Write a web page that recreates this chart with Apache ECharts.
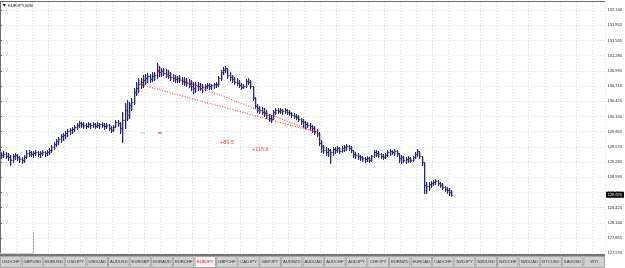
<!DOCTYPE html>
<html><head><meta charset="utf-8">
<script src="https://cdn.jsdelivr.net/npm/echarts@6/dist/echarts.min.js"></script>
<style>html,body{margin:0;padding:0;background:#fff;overflow:hidden}#c{width:625px;height:268px}</style>
</head><body><div id="c"></div>
<script>
// EURJPY M30 bars
const open = [
129.44,129.42,129.44,129.40,129.38,129.32,129.40,129.42,129.38,129.34,
129.32,129.38,129.45,129.47,129.44,129.45,129.47,129.44,129.45,129.47,
129.45,129.47,129.51,129.57,129.62,129.68,129.72,129.77,129.79,129.83,
129.87,129.89,129.91,129.94,129.98,130.02,130.00,129.98,129.96,130.00,
129.98,130.00,129.96,129.98,130.00,129.98,129.96,129.98,129.92,129.89,
129.94,130.04,130.02,129.92,130.07,130.26,130.17,130.36,130.41,130.60,
130.68,130.75,130.79,130.83,130.86,130.90,130.84,130.90,130.92,131.01,
130.98,130.99,130.96,130.94,130.92,130.88,130.86,130.84,130.86,130.83,
130.81,130.79,130.77,130.75,130.71,130.68,130.73,130.71,130.68,130.69,
130.71,130.73,130.71,130.73,130.75,130.75,130.86,130.98,131.01,131.05,
130.92,130.88,130.84,130.79,130.77,130.73,130.69,130.71,130.81,130.79,
130.71,130.49,130.34,130.30,130.26,130.22,130.21,130.17,130.11,130.09,
130.22,130.26,130.24,130.26,130.24,130.26,130.22,130.21,130.17,130.15,
130.13,130.09,130.06,130.04,130.00,129.98,129.96,129.92,129.87,129.83,
129.64,129.59,129.51,129.47,129.51,129.47,129.53,129.51,129.55,129.49,
129.55,129.57,129.59,129.55,129.51,129.44,129.42,129.40,129.38,129.36,
129.34,129.36,129.32,129.40,129.47,129.45,129.44,129.40,129.38,129.42,
129.47,129.49,129.47,129.49,129.45,129.36,129.38,129.32,129.34,129.36,
129.32,129.38,129.44,129.49,129.40,129.29,128.85,128.83,128.87,128.89,
128.91,128.93,128.89,128.85,128.82,128.78,128.76,128.72];
const high = [
129.47,129.49,129.47,129.45,129.42,129.44,129.45,129.44,129.40,129.38,
129.42,129.51,129.51,129.49,129.49,129.51,129.49,129.49,129.51,129.49,
129.51,129.55,129.60,129.66,129.72,129.76,129.81,129.83,129.87,129.91,
129.92,129.94,129.98,130.02,130.06,130.04,130.04,130.02,130.04,130.02,
130.04,130.02,130.04,130.02,130.04,130.02,130.02,130.00,129.96,129.98,
130.07,130.07,130.04,130.22,130.39,130.45,130.41,130.49,130.68,130.79,
130.86,130.86,130.92,130.94,130.96,130.94,130.98,130.98,131.14,131.09,
131.05,131.05,131.03,131.01,130.98,130.94,130.92,130.90,130.92,130.88,
130.88,130.86,130.84,130.83,130.79,130.79,130.79,130.77,130.75,130.75,
130.77,130.77,130.75,130.77,130.79,130.90,131.01,131.07,131.09,131.05,
130.98,130.92,130.88,130.86,130.83,130.77,130.75,130.84,130.86,130.83,
130.71,130.51,130.37,130.34,130.32,130.30,130.26,130.19,130.17,130.26,
130.30,130.30,130.30,130.28,130.30,130.28,130.26,130.22,130.21,130.19,
130.17,130.11,130.09,130.06,130.04,130.02,129.98,129.96,129.91,129.85,
129.70,129.60,129.57,129.55,129.53,129.57,129.57,129.59,129.57,129.59,
129.60,129.62,129.60,129.59,129.51,129.47,129.45,129.42,129.40,129.38,
129.40,129.38,129.42,129.51,129.51,129.49,129.45,129.44,129.45,129.51,
129.53,129.51,129.53,129.51,129.45,129.42,129.40,129.38,129.40,129.38,
129.40,129.47,129.53,129.49,129.40,129.29,128.91,128.91,128.93,128.95,
128.97,128.95,128.91,128.89,128.83,128.82,128.80,128.76];
const low = [
129.36,129.38,129.36,129.32,129.23,129.29,129.34,129.32,129.29,129.27,
129.29,129.36,129.40,129.40,129.38,129.42,129.40,129.38,129.42,129.40,
129.42,129.44,129.47,129.53,129.59,129.62,129.66,129.70,129.74,129.77,
129.81,129.83,129.87,129.91,129.94,129.94,129.92,129.92,129.94,129.92,
129.94,129.92,129.94,129.92,129.94,129.91,129.92,129.89,129.85,129.87,
129.94,129.96,129.83,129.66,129.92,130.07,130.11,130.26,130.37,130.54,
130.60,130.68,130.69,130.75,130.79,130.79,130.81,130.83,130.86,130.90,
130.90,130.92,130.88,130.86,130.83,130.81,130.79,130.79,130.79,130.75,
130.73,130.71,130.69,130.64,130.58,130.60,130.64,130.64,130.60,130.64,
130.68,130.66,130.66,130.68,130.69,130.71,130.83,130.94,130.98,130.86,
130.83,130.79,130.75,130.73,130.69,130.66,130.68,130.69,130.75,130.68,
130.45,130.30,130.22,130.21,130.19,130.15,130.11,130.06,130.04,130.09,
130.19,130.21,130.21,130.19,130.21,130.19,130.17,130.13,130.11,130.09,
130.06,130.00,129.94,129.92,129.94,129.91,129.85,129.81,129.77,129.60,
129.47,129.45,129.42,129.40,129.27,129.42,129.45,129.47,129.45,129.47,
129.49,129.51,129.51,129.47,129.38,129.36,129.34,129.32,129.30,129.29,
129.30,129.29,129.30,129.38,129.40,129.38,129.36,129.34,129.36,129.40,
129.42,129.44,129.42,129.40,129.29,129.27,129.29,129.27,129.29,129.29,
129.30,129.36,129.40,129.36,129.23,128.70,128.70,128.76,128.82,128.85,
128.87,128.85,128.82,128.78,128.74,128.70,128.67,128.65];
const close = [
129.42,129.44,129.40,129.38,129.32,129.40,129.42,129.38,129.34,129.32,
129.38,129.45,129.47,129.44,129.45,129.47,129.44,129.45,129.47,129.45,
129.47,129.51,129.57,129.62,129.68,129.72,129.77,129.79,129.83,129.87,
129.89,129.91,129.94,129.98,130.02,130.00,129.98,129.96,130.00,129.98,
130.00,129.96,129.98,130.00,129.98,129.96,129.98,129.92,129.89,129.94,
130.04,130.02,129.92,130.07,130.26,130.17,130.36,130.41,130.60,130.68,
130.75,130.79,130.83,130.86,130.90,130.84,130.90,130.92,131.01,130.98,
130.99,130.96,130.94,130.92,130.88,130.86,130.84,130.86,130.83,130.81,
130.79,130.77,130.75,130.71,130.68,130.73,130.71,130.68,130.69,130.71,
130.73,130.71,130.73,130.75,130.75,130.86,130.98,131.01,131.05,130.92,
130.88,130.84,130.79,130.77,130.73,130.69,130.71,130.81,130.79,130.71,
130.49,130.34,130.30,130.26,130.22,130.21,130.17,130.11,130.09,130.22,
130.26,130.24,130.26,130.24,130.26,130.22,130.21,130.17,130.15,130.13,
130.09,130.06,130.04,130.00,129.98,129.96,129.92,129.87,129.83,129.64,
129.59,129.51,129.47,129.51,129.47,129.53,129.51,129.55,129.49,129.55,
129.57,129.59,129.55,129.51,129.44,129.42,129.40,129.38,129.36,129.34,
129.36,129.32,129.40,129.47,129.45,129.44,129.40,129.38,129.42,129.47,
129.49,129.47,129.49,129.45,129.36,129.38,129.32,129.34,129.36,129.32,
129.38,129.44,129.49,129.40,129.29,128.85,128.83,128.87,128.89,128.91,
128.93,128.89,128.85,128.82,128.78,128.76,128.72,128.67];

const yTickLabels = ['127.570','127.855','128.140','128.425','128.710','128.995','129.285','129.570',
  '129.855','130.140','130.425','130.710','130.995','131.280','131.565','131.855','132.140'];
const symbolTabs = ['USDCHF','GBPUSD','EURUSD','USDJPY','USDCAD','AUDUSD','EURGBP','EURAUD','EURCHF','EURJPY',
  'GBPCHF','CADJPY','GBPJPY','AUDNZD','AUDCAD','AUDCHF','AUDJPY','CHFJPY','EURNZD','EURCAD',
  'CADCHF','NZDJPY','NZDUSD','NZDCHF','NZDCAD','BTCUSD','XAUUSD','WTI'];
const activeTab = 'EURJPY';
const chartTitle = 'EURJPY,M30';
// trend lines: [barPos1, price1, barPos2, price2]
const trendLines = [[62.1,130.73,137.8,129.85],[69.3,130.99,137.8,129.85]];
// short marks: [barPos1, barPos2, price]
const shortMarks = [[61.3,63.4,129.83],[69.1,70.9,129.83]];
// text notes: [barPos, price, text]
const notes = [[96.3,129.66,'+89.5'],[110.3,129.52,'+115.6']];

const FONT = 'Liberation Sans, Arial, sans-serif';
const chart = echarts.init(document.getElementById('c'), null, {renderer:'canvas'});
const barData = close.map((c,i)=>[i+0.5, open[i], high[i], low[i], c]);
const BAR = '#262668';
const HALO = '#b9b9dc';

function renderBar(params, api){
  const x = api.value(0);
  const pO = api.coord([x, api.value(1)]);
  const pH = api.coord([x, api.value(2)]);
  const pL = api.coord([x, api.value(3)]);
  const pC = api.coord([x, api.value(4)]);
  const cx = Math.round(pH[0]) + 0.5;
  const yo = Math.round(pO[1]) + 0.5, yc = Math.round(pC[1]) + 0.5;
  const y1 = Math.round(pH[1]), y2 = Math.round(pL[1]) + 1;
  const st = {stroke:BAR, lineWidth:1};
  return {type:'group', children:[
    {type:'line', shape:{x1:cx+1, y1:y1+1, x2:cx+1, y2:y2-1}, style:{stroke:HALO, lineWidth:1}, z2:0},
    {type:'line', shape:{x1:cx, y1:y1, x2:cx, y2:y2}, style:st, z2:1},
    {type:'line', shape:{x1:cx-1, y1:yo, x2:cx, y2:yo}, style:st, z2:1},
    {type:'line', shape:{x1:cx, y1:yc, x2:cx+1.2, y2:yc}, style:st, z2:1}
  ]};
}

const series = [{
  type:'custom', xAxisIndex:0, yAxisIndex:0, data:barData, renderItem:renderBar,
  encode:{x:0, y:[1,2,3,4]}, silent:true, animation:false, clip:true
}];
trendLines.forEach(t=>{
  series.push({type:'line', xAxisIndex:0, yAxisIndex:0, data:[[t[0],t[1]],[t[2],t[3]]],
    symbol:'none', silent:true, animation:false, z:5,
    lineStyle:{color:'#ff1a1a', width:1, type:[1,1.6]}});
});
series.push({type:'scatter', xAxisIndex:0, yAxisIndex:0, silent:true, animation:false, z:5,
  data: trendLines.flatMap(t=>[[t[0],t[1]],[t[2],t[3]]]),
  symbol:'rect', symbolSize:2, itemStyle:{color:'#e00000'}});
shortMarks.forEach((m,k)=>{
  series.push({type:'line', xAxisIndex:0, yAxisIndex:0, data:[[m[0],m[2]],[m[1],m[2]]],
    symbol:'none', silent:true, animation:false,
    lineStyle:{color: k===0 ? '#f3a0a0' : '#e82020', width:1}});
});
series.push({type:'scatter', xAxisIndex:0, yAxisIndex:0, silent:true, animation:false,
  data: notes.map(n=>({value:[n[0],n[1]], name:n[2]})),
  symbolSize:0,
  label:{show:true, position:'right', distance:0, formatter:p=>p.name,
    fontSize:5.5, fontFamily:FONT, color:'#ff0000'}});

const grid1 = {left:0, right:20, top:2, bottom:12};
const graphics = [];
graphics.push({type:'line', shape:{x1:0, y1:1.5, x2:605, y2:1.5}, style:{stroke:'#6a6a6a', lineWidth:1}, z:10});
graphics.push({type:'line', shape:{x1:0.5, y1:1.5, x2:0.5, y2:256}, style:{stroke:'#6a6a6a', lineWidth:1}, z:10});
graphics.push({type:'polygon', shape:{points:[[2.5,4],[6,4],[4.25,6.5]]}, style:{fill:'#000'}, z:10});
graphics.push({type:'text', x:8, y:5.5, style:{text:chartTitle, fontSize:4.2, fontFamily:FONT, fill:'#111', verticalAlign:'middle'}, z:10});
graphics.push({type:'line', shape:{x1:33.5, y1:232, x2:33.5, y2:254}, style:{stroke:'#b4b4b4', lineWidth:1}, z:10});
graphics.push({type:'line', shape:{x1:0, y1:253.5, x2:33.5, y2:253.5}, style:{stroke:'#d0d0d0', lineWidth:1}, z:10});
graphics.push({type:'rect', shape:{x:0, y:254, width:605, height:14}, style:{fill:'#ececec'}, z:10});
graphics.push({type:'rect', shape:{x:0, y:254, width:605, height:2}, style:{fill:'#777'}, z:11});
const TW = 605/symbolTabs.length;
symbolTabs.forEach((s,k)=>{
  const act = s===activeTab;
  graphics.push({type:'rect', shape:{x:k*TW+0.5, y:256.5, width:TW-1, height:11}, style:{fill: act ? '#f4f4f4' : '#d2d2d2', stroke:'#a6a6a6', lineWidth:1}, z:11});
  graphics.push({type:'text', x:k*TW+TW/2, y:262.3, style:{text:s, fontSize:4.2, fontFamily:FONT, fill: act ? '#ee0000' : '#2a2a2a', align:'center', verticalAlign:'middle'}, z:12});
});

const GRID_LINE = {color:'#dcdfe5', width:1, type:[1,2]};
chart.setOption({
  animation:false,
  backgroundColor:'#ffffff',
  textStyle:{fontFamily:FONT},
  grid:[grid1, {left:0, right:20, top:10, bottom:14.7}],
  xAxis:[
    {type:'value', gridIndex:0, min:0, max:264.7, interval:7,
     axisLine:{show:false}, axisTick:{show:false}, axisLabel:{show:false},
     splitLine:{show:true, lineStyle:GRID_LINE}},
    {type:'value', gridIndex:1, min:0, max:1, show:false}
  ],
  yAxis:[
    {type:'value', gridIndex:0, min:127.5193, max:132.2903, position:'right',
     axisLine:{show:true, lineStyle:{color:'#5a5a5a', width:1}}, axisTick:{show:false},
     axisLabel:{show:false}, splitLine:{show:false}},
    {type:'value', gridIndex:1, min:0, max:16, interval:1, position:'right',
     axisLine:{show:false}, axisTick:{show:true, length:2, lineStyle:{color:'#5a5a5a'}},
     axisLabel:{fontSize:4, color:'#222', margin:2.5, fontFamily:FONT,
       formatter:v=>yTickLabels[Math.round(v)] || ''},
     splitLine:{show:true, lineStyle:GRID_LINE}}
  ],
  series: series,
  graphic: graphics
});

const last = close[close.length-1];
const py = chart.convertToPixel({xAxisIndex:0, yAxisIndex:0}, [0, last])[1];
chart.setOption({graphic: graphics.concat([
  {type:'rect', shape:{x:606, y:py-3, width:18, height:6}, style:{fill:'#000'}, z:20},
  {type:'text', x:615, y:py, style:{text:last.toFixed(3), fontSize:4, fontFamily:FONT, fill:'#fff', align:'center', verticalAlign:'middle'}, z:21}
])});
</script></body></html>
